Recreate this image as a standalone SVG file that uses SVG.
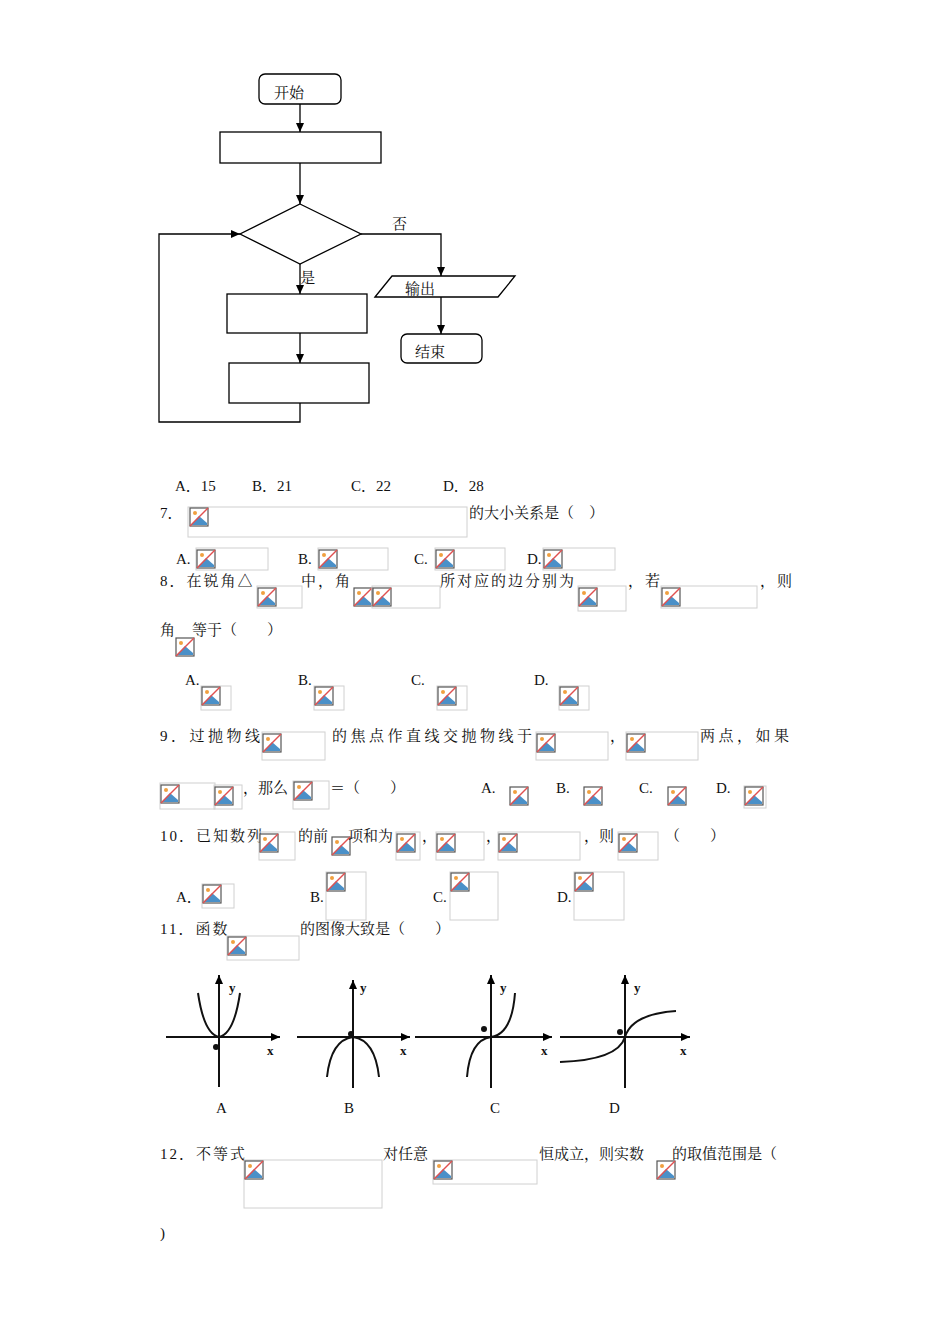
<svg xmlns="http://www.w3.org/2000/svg" xmlns:xlink="http://www.w3.org/1999/xlink" width="950" height="1344" viewBox="0 0 950 1344">
<style>
text{font-family:"Liberation Serif","Noto Serif CJK SC","Noto Sans CJK SC",serif;font-size:15px;fill:#111}
.s2{letter-spacing:2px}
.s3{letter-spacing:3.5px}
.n{fill:#fff;stroke:#000;stroke-width:1.3}
.c{fill:none;stroke:#000;stroke-width:1.3}
.b{fill:none;stroke:#d0d0d0;stroke-width:1}
.g{fill:none;stroke:#111;stroke-width:2}
.gl{font-family:"Liberation Serif",serif;font-weight:bold;font-size:13px}
</style>
<defs>
<marker id="ar" markerWidth="10" markerHeight="10" refX="9" refY="5" orient="auto" markerUnits="userSpaceOnUse"><path d="M0,1 L9,5 L0,9 Z" fill="#000"/></marker>
<symbol id="ic" viewBox="0 0 20 20" width="20" height="20">
<rect x="1" y="1" width="18" height="18" fill="#fff" stroke="#555" stroke-width="1.2"/>
<path d="M2,18 L10,9 L18,16 L18,18 Z" fill="#4a90c8"/>
<circle cx="6" cy="6" r="2" fill="#f0a040"/>
<line x1="1" y1="19" x2="19" y2="1" stroke="#e05050" stroke-width="1.4"/>
</symbol>
</defs>
<g id="connectors">
<line class="c" x1="300" y1="104" x2="300" y2="132" marker-end="url(#ar)"/>
<line class="c" x1="300" y1="163" x2="300" y2="204" marker-end="url(#ar)"/>
<line class="c" x1="300" y1="264" x2="300" y2="294" marker-end="url(#ar)"/>
<line class="c" x1="300" y1="333" x2="300" y2="363" marker-end="url(#ar)"/>
<polyline class="c" points="300,403 300,422 159,422 159,234 240,234" marker-end="url(#ar)"/>
<polyline class="c" points="361,234 441,234 441,276" marker-end="url(#ar)"/>
<line class="c" x1="441" y1="297" x2="441" y2="334" marker-end="url(#ar)"/>
<text x="392" y="229">否</text>
<text x="300" y="283">是</text>
</g>
<g id="start"><rect class="n" x="259" y="74" width="82" height="30" rx="6"/><text x="274" y="98">开始</text></g>
<g id="init"><rect class="n" x="220" y="132" width="161" height="31"/></g>
<g id="cond"><polygon class="n" points="300,204 361,234 300,264 240,234"/></g>
<g id="body1"><rect class="n" x="227" y="294" width="140" height="39"/></g>
<g id="body2"><rect class="n" x="229" y="363" width="140" height="40"/></g>
<g id="output"><polygon class="n" points="375,297 392,276 515,276 498,297"/><text x="405" y="294">输出</text></g>
<g id="end"><rect class="n" x="401" y="334" width="81" height="29" rx="6"/><text x="415" y="357">结束</text></g>

<g id="text">
<text x="175" y="491">A．15</text><text x="252" y="491">B．21</text><text x="351" y="491">C．22</text><text x="443" y="491">D．28</text>
<text x="160" y="518">7．</text>
<rect class="b" x="188" y="507" width="279" height="30"/><use href="#ic" x="189" y="507"/>
<text x="469" y="518">的大小关系是（　）</text>
<text x="176" y="564">A.</text><rect class="b" x="196" y="548" width="72" height="22"/><use href="#ic" x="196" y="549"/>
<text x="298" y="564">B.</text><rect class="b" x="318" y="548" width="70" height="22"/><use href="#ic" x="318" y="549"/>
<text x="414" y="564">C.</text><rect class="b" x="435" y="548" width="70" height="22"/><use href="#ic" x="435" y="549"/>
<text x="527" y="564">D.</text><rect class="b" x="543" y="548" width="72" height="22"/><use href="#ic" x="543" y="549"/>
<text class="s2" x="160" y="586">8．在锐角△</text><rect class="b" x="257" y="586" width="45" height="22"/><use href="#ic" x="257" y="587"/>
<text class="s2" x="301" y="586">中，角</text><use href="#ic" x="353" y="587"/><rect class="b" x="372" y="586" width="68" height="22"/><use href="#ic" x="372" y="587"/>
<text class="s2" x="440" y="586">所对应的边分别为</text><rect class="b" x="578" y="586" width="48" height="25"/><use href="#ic" x="578" y="587"/>
<text class="s2" x="628" y="586">，若</text><rect class="b" x="661" y="586" width="96" height="22"/><use href="#ic" x="661" y="587"/>
<text class="s2" x="760" y="586">，则</text>
<text x="160" y="635">角</text><use href="#ic" x="175" y="637"/><text x="192" y="635">等于（　　）</text>
<text x="185" y="685">A.</text><rect class="b" x="201" y="686" width="30" height="24"/><use href="#ic" x="201" y="686"/>
<text x="298" y="685">B.</text><rect class="b" x="314" y="686" width="30" height="24"/><use href="#ic" x="314" y="686"/>
<text x="411" y="685">C.</text><rect class="b" x="437" y="686" width="30" height="24"/><use href="#ic" x="437" y="686"/>
<text x="534" y="685">D.</text><rect class="b" x="559" y="686" width="30" height="24"/><use href="#ic" x="559" y="686"/>
<text class="s3" x="160" y="741">9．过抛物线</text><rect class="b" x="262" y="732" width="63" height="28"/><use href="#ic" x="262" y="733"/>
<text class="s3" x="332" y="741">的焦点作直线交抛物线于</text><rect class="b" x="536" y="732" width="72" height="28"/><use href="#ic" x="536" y="733"/>
<text x="610" y="741">，</text><rect class="b" x="626" y="732" width="72" height="28"/><use href="#ic" x="626" y="733"/>
<text class="s3" x="700" y="741">两点，如果</text>
<rect class="b" x="160" y="783" width="55" height="26"/><use href="#ic" x="160" y="784"/>
<rect class="b" x="214" y="785" width="28" height="24"/><use href="#ic" x="214" y="786"/>
<text x="243" y="793">，那么</text><rect class="b" x="293" y="781" width="36" height="28"/><use href="#ic" x="293" y="781"/>
<text x="330" y="793">＝（　　）</text>
<text x="481" y="793">A.</text><use href="#ic" x="509" y="786"/>
<text x="556" y="793">B.</text><use href="#ic" x="583" y="786"/>
<text x="639" y="793">C.</text><use href="#ic" x="667" y="786"/>
<text x="716" y="793">D.</text><rect class="b" x="744" y="786" width="22" height="22"/><use href="#ic" x="744" y="786"/>
<text class="s2" x="160" y="841">10．已知数列</text><rect class="b" x="259" y="832" width="36" height="28"/><use href="#ic" x="259" y="833"/>
<text x="298" y="841">的前</text><use href="#ic" x="331" y="836"/><text x="348" y="841">项和为</text>
<rect class="b" x="396" y="832" width="24" height="28"/><use href="#ic" x="396" y="833"/>
<text x="422" y="841">，</text><rect class="b" x="436" y="832" width="48" height="28"/><use href="#ic" x="436" y="833"/>
<text x="486" y="841">，</text><rect class="b" x="498" y="832" width="82" height="28"/><use href="#ic" x="498" y="833"/>
<text x="584" y="841">，则</text><rect class="b" x="618" y="832" width="40" height="28"/><use href="#ic" x="618" y="833"/>
<text x="665" y="841">（　　）</text>
<text x="176" y="902">A．</text><rect class="b" x="202" y="884" width="32" height="24"/><use href="#ic" x="202" y="884"/>
<text x="310" y="902">B.</text><rect class="b" x="326" y="872" width="40" height="48"/><use href="#ic" x="326" y="872"/>
<text x="433" y="902">C.</text><rect class="b" x="450" y="872" width="48" height="48"/><use href="#ic" x="450" y="872"/>
<text x="557" y="902">D.</text><rect class="b" x="574" y="872" width="50" height="48"/><use href="#ic" x="574" y="872"/>
<text class="s2" x="160" y="934">11．函数</text><rect class="b" x="227" y="936" width="72" height="24"/><use href="#ic" x="227" y="936"/>
<text x="300" y="934">的图像大致是（　　）</text>
<text class="s2" x="160" y="1159">12．不等式</text><rect class="b" x="244" y="1160" width="138" height="48"/><use href="#ic" x="244" y="1160"/>
<text x="383" y="1159">对任意</text><rect class="b" x="433" y="1160" width="104" height="24"/><use href="#ic" x="433" y="1160"/>
<text x="539" y="1159">恒成立，则实数</text><use href="#ic" x="656" y="1160"/>
<text x="672" y="1159">的取值范围是（</text>
<text x="160" y="1238">)</text>
</g>

<g id="graphs">
<g id="gA">
<line class="g" x1="166" y1="1037" x2="280" y2="1037" marker-end="url(#ar)"/>
<line class="g" x1="219" y1="1087" x2="219" y2="975" marker-end="url(#ar)"/>
<path class="g" d="M198,993 Q204,1034 219,1037 Q234,1034 240,993"/>
<circle cx="216" cy="1047" r="3" fill="#111"/>
<text class="gl" x="229" y="992">y</text><text class="gl" x="267" y="1055">x</text>
<text x="216" y="1113">A</text>
</g>
<g id="gB">
<line class="g" x1="297" y1="1037" x2="410" y2="1037" marker-end="url(#ar)"/>
<line class="g" x1="353" y1="1088" x2="353" y2="980" marker-end="url(#ar)"/>
<path class="g" d="M327,1077 Q331,1040 353,1037 Q375,1040 379,1077"/>
<circle cx="351" cy="1034" r="3" fill="#111"/>
<text class="gl" x="360" y="992">y</text><text class="gl" x="400" y="1055">x</text>
<text x="344" y="1113">B</text>
</g>
<g id="gC">
<line class="g" x1="415" y1="1037" x2="552" y2="1037" marker-end="url(#ar)"/>
<line class="g" x1="491" y1="1088" x2="491" y2="975" marker-end="url(#ar)"/>
<path class="g" d="M467,1077 Q470,1040 491,1037 Q512,1034 515,993"/>
<circle cx="484" cy="1029" r="3" fill="#111"/>
<text class="gl" x="500" y="992">y</text><text class="gl" x="541" y="1055">x</text>
<text x="490" y="1113">C</text>
</g>
<g id="gD">
<line class="g" x1="560" y1="1037" x2="690" y2="1037" marker-end="url(#ar)"/>
<line class="g" x1="625" y1="1088" x2="625" y2="975" marker-end="url(#ar)"/>
<path class="g" d="M560,1062 Q618,1060 625,1037 Q632,1014 676,1011"/>
<circle cx="620" cy="1032" r="3" fill="#111"/>
<text class="gl" x="634" y="992">y</text><text class="gl" x="680" y="1055">x</text>
<text x="609" y="1113">D</text>
</g>
</g>
</svg>
